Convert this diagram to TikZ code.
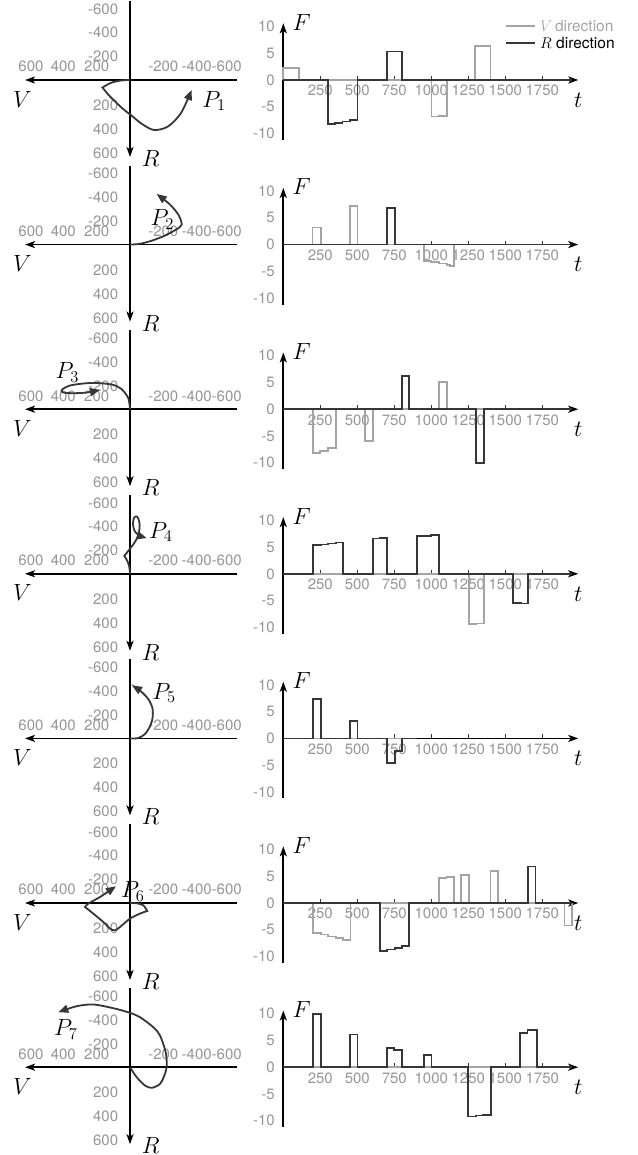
\RequirePackage{fix-cm}
\documentclass[tikz,border=0pt]{standalone}
\usepackage{fontspec}
\setsansfont{TeX Gyre Heros}
\usetikzlibrary{arrows.meta}

\definecolor{tickgray}{HTML}{969696}
\definecolor{vgray}{HTML}{A4A4A4}
\definecolor{rdark}{HTML}{363636}

\tikzset{
  ax/.style={black, line width=1.8pt, -{Stealth[length=10pt,width=7pt,inset=2.5pt]}},
  tick/.style={rdark, line width=0.9pt},
  ticklab/.style={font=\fontsize{15}{17}\selectfont\sffamily, text=tickgray, inner sep=0pt},
  mlab/.style={font=\fontsize{23.5}{26}\selectfont, inner sep=0pt},
  leglab/.style={font=\fontsize{15.5}{17}\selectfont\sffamily, inner sep=0pt, anchor=west},
  vline/.style={vgray, line width=1.7pt},
  rline/.style={rdark, line width=1.7pt},
  traj/.style={rdark, line width=1.8pt, -{Triangle[length=10pt,width=8pt]}},
  vrplot/.style={shift={(130,#1)}},
  fplot/.style={shift={(283.3,#1)}, x=0.148pt, y=5.35pt},
}

\begin{document}
\begin{tikzpicture}[x=1pt, y=-1pt]
		\useasboundingbox (0,0) rectangle (637,1155);
		%%%%%%%%%%%%% axes of the seven rows
		\foreach \oy [count=\rw] in {80,244.6,409.2,573.8,738.4,903,1067.2}{
			\begin{scope}[vrplot=\oy]
				\draw[ax] (107,0) -- (-105,0);
				\draw[ax] (0,-79) -- (0,77);
				\foreach \vv/\pp in {600/-99,400/-66.7,200/-33.3,-200/33.3,-400/66.7,-600/96.7}
					\node[ticklab] at (\pp,-13.3) {\vv};
				\foreach \vv/\pp in {-600/-71,-400/-47.3,-200/-23.3,200/25.3,400/49.3,600/73.3}
					\node[ticklab, anchor=east] at (-11.7,\pp) {\vv};
				\node[mlab] (V\rw) at (-107.7,19) {$V$};
				\node[mlab] (R\rw) at (20.7,78.5) {$R$};
			\end{scope}
			\begin{scope}[fplot=\oy]
				\draw[ax] (0,0) -- (1993,0);
				\draw[ax] (0,-11.2) -- (0,10.6);
				\foreach \tk in {250,500,...,1750}{
					\draw[tick] (\tk,0) -- (\tk,0.75);
					\node[ticklab] at (\tk,-2) {\tk};
				}
				\foreach \fv in {10,5,0,-5,-10}
					\node[ticklab, anchor=east] at (-56,\fv) {\fv};
				\node[mlab] (F\rw) at (124,10.8) {$F$};
				\node[mlab] (t\rw) at (1993,-3.74) {$t$};
			\end{scope}
		}
		%%%%%%%%%%%%% legend
		\coordinate (lg1) at (506,26); \coordinate (lg2) at (535,26);
		\coordinate (lb1) at (506,42.7); \coordinate (lb2) at (535,42.7);
		\draw[vline] (lg1) -- (lg2);
		\draw[rline] (lb1) -- (lb2);
		\node[leglab, text=vgray] (legV) at (540,26) {$V$\,direction};
		\node[leglab, text=black] (legR) at (540,43) {$R$ direction};
		%%%%%%%%%%%%% row 1
		\begin{scope}[vrplot=80]
			\draw[traj] plot[smooth] coordinates {(0,0) (-9,0.5) (-19,2.8) (-27.5,7.5)}
				-- plot[smooth] coordinates {(-27.5,7.5) (-20,16.5) (-8,28) (2,36) (12,44) (24,50) (38,46.5) (51,33) (61.7,10)};
			\node[mlab] (P1) at (84,21) {$P_1$};
		\end{scope}
		\begin{scope}[fplot=80]
			\draw[vline] (0,0) -- (0,2.3) -| (108,0) -| (1002,-6.85) -| (1053,-6.7) -| (1104,0) -| (1297,6.35) -| (1401,0) -- (1950,0);
			\draw[rline] (0,0) -| (300,-8.2) -| (350,-8.0) -| (400,-7.75) -| (450,-7.5) -| (502,0) -| (703,5.3) -| (804,0) -- (1950,0);
		\end{scope}
		%%%%%%%%%%%%% row 2
		\begin{scope}[vrplot=244.6]
			\draw[traj] plot[smooth] coordinates {(0,0) (10,-0.8) (22,-4) (35,-9) (46,-15) (51.7,-20) (48.3,-30) (40,-40) (26.7,-50.7)};
			\node[mlab] (P2) at (32.3,-25) {$P_2$};
		\end{scope}
		\begin{scope}[fplot=244.6]
			\draw[vline] (0,0) -| (198,3.2) -| (254,0) -| (450,7.2) -| (502,0) -| (950,-3.1) -| (1000,-3.3) -| (1050,-3.55) -| (1104,-3.8) -| (1128,-4.0) -| (1153,0) -- (1950,0);
			\draw[rline] (0,0) -| (703,6.9) -| (755,0) -- (1950,0);
		\end{scope}
		%%%%%%%%%%%%% row 3
		\begin{scope}[vrplot=409.2]
			\draw[traj] plot[smooth] coordinates {(0,0) (-1.7,-11) (-8.3,-20) (-16.7,-24.3) (-30,-26) (-43.3,-26) (-60,-23.7) (-68.3,-19.3) (-66.7,-16.7) (-56.7,-16) (-43.3,-16.7) (-30,-19.3)};
			\node[mlab] (P3) at (-62.7,-36.7) {$P_3$};
		\end{scope}
		\begin{scope}[fplot=409.2]
			\draw[vline] (0,0) -| (203,-8.2) -| (248,-7.75) -| (304,-7.3) -| (356,0) -| (552,-6.0) -| (604,0) -| (1052,5.05) -| (1104,0) -- (1950,0);
			\draw[rline] (0,0) -| (804,6.2) -| (851,0) -| (1302,-10.1) -| (1354,0) -- (1950,0);
		\end{scope}
		%%%%%%%%%%%%% row 4
		\begin{scope}[vrplot=573.8]
			\draw[traj] plot[smooth] coordinates {(0,0) (-0.7,-7) (-2.5,-12.5) (-5.7,-18)}
				-- plot[smooth] coordinates {(-5.7,-18) (-2,-22.5) (3,-29) (7.5,-36.5) (9.5,-45) (9.3,-52) (7,-57.3) (4,-56) (3,-50) (4.5,-43) (9,-38.5) (16.7,-35.7)};
			\node[mlab] (P4) at (30.7,-41.7) {$P_4$};
		\end{scope}
		\begin{scope}[fplot=573.8]
			\draw[vline] (0,0) -| (1254,-9.4) -| (1305,-9.3) -| (1356,0) -- (1950,0);
			\draw[rline] (0,0) -| (203,5.35) -| (254,5.5) -| (304,5.65) -| (355,5.85) -| (405,0) -| (604,6.6) -| (654,6.75) -| (703,0) -| (901,7.1) -| (1000,7.25) -| (1054,0) -| (1554,-5.45) -| (1605,-5.55) -| (1655,0) -- (1950,0);
		\end{scope}
		%%%%%%%%%%%%% row 5
		\begin{scope}[vrplot=738.4]
			\draw[traj] plot[smooth] coordinates {(0,0) (8,-0.3) (14.5,-4) (19.5,-11) (22.5,-20) (22.5,-30) (18.5,-39) (11,-47) (2,-53)};
			\node[mlab] (P5) at (34,-45.6) {$P_5$};
		\end{scope}
		\begin{scope}[fplot=738.4]
			\draw[vline] (0,0) -- (900,0);
			\draw[rline] (0,0) -| (203,7.35) -| (254,0) -| (450,3.25) -| (502,0) -| (703,-4.55) -| (755,-2.3) -| (804,0) -- (900,0);
		\end{scope}
		%%%%%%%%%%%%% row 6
		\begin{scope}[vrplot=903]
			\draw[traj] plot[smooth] coordinates {(0,0) (7,0.3) (13.3,2.3) (17.3,8)}
				-- plot[smooth] coordinates {(17.3,8) (10,10.6) (0,15.6) (-10,24) (-15,27.3) (-20,25.6) (-26.7,19) (-36.7,10.6) (-45,4)}
				-- plot[smooth] coordinates {(-45,4) (-41.7,0.6) (-30,-6) (-20,-12.7) (-14,-16.7)};
			\node[mlab] (P6) at (2.7,-11.7) {$P_6$};
		\end{scope}
		\begin{scope}[fplot=903]
			\draw[vline] (0,0) -| (203,-5.6) -| (254,-5.9) -| (304,-6.25) -| (355,-6.55) -| (405,-6.9) -| (455,0) -| (1052,4.7) -| (1103,4.8) -| (1153,0) -| (1200,5.2) -| (1254,0) -| (1401,6.0) -| (1453,0) -| (1899,-4.2) -| (1953,0);
			\draw[rline] (0,0) -| (653,-9.0) -| (703,-8.7) -| (754,-8.4) -| (804,-8.1) -| (851,0) -| (1655,6.8) -| (1705,0) -- (1950,0);
		\end{scope}
		%%%%%%%%%%%%% row 7
		\begin{scope}[vrplot=1067.2]
			\draw[traj] plot[smooth] coordinates {(0,0) (6.7,10) (15,18.3) (21.7,20.6) (30,16.7) (35,6.6) (36.7,-1.7) (35.7,-15) (30,-31.7) (23.3,-40) (10,-50) (0,-54.4) (-16.7,-59) (-36.7,-62.7) (-53.3,-61) (-71.7,-55)};
			\node[mlab] (P7) at (-64.3,-37.7) {$P_7$};
		\end{scope}
		\begin{scope}[fplot=1067.2]
			\draw[vline] (0,0) -- (1950,0);
			\draw[rline] (0,0) -| (200,9.9) -| (254,0) -| (450,6.1) -| (502,0) -| (703,3.6) -| (750,3.25) -| (800,0) -| (952,2.3) -| (1002,0) -| (1250,-9.2) -| (1300,-9.05) -| (1350,-8.9) -| (1403,0) -| (1600,6.4) -| (1650,7.0) -| (1712,0) -- (1950,0);
		\end{scope}
\end{tikzpicture}
\end{document}
